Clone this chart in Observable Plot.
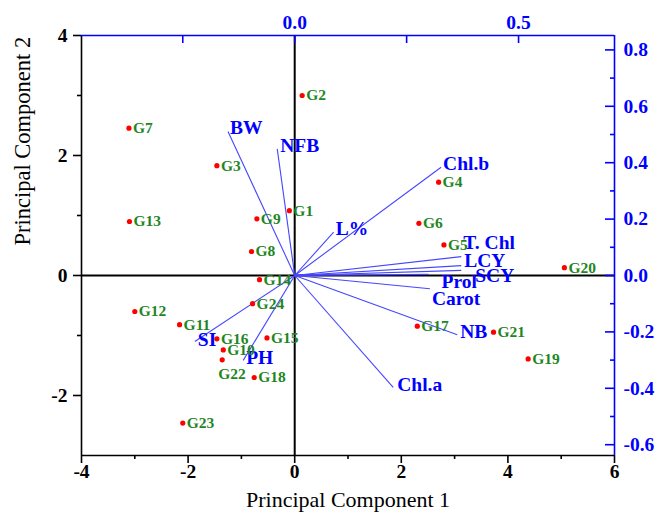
<!DOCTYPE html>
<html>
<head>
<meta charset="utf-8">
<script src="https://cdn.jsdelivr.net/npm/d3@7"></script>
<script src="https://cdn.jsdelivr.net/npm/@observablehq/plot@0.6"></script>
<style>
  html, body { margin: 0; padding: 0; background: #fff; }
  #chart svg { display: block; }
</style>
</head>
<body>
<div id="chart"></div>
<script>
// ---- Data ----
const genotypes = ["G1","G2","G3","G4","G5","G6","G7","G8","G9","G10","G11","G12",
                   "G13","G14","G15","G16","G17","G18","G19","G20","G21","G22","G23","G24"];
const pc1 = [-0.10, 0.14, -1.46, 2.70, 2.80, 2.33, -3.11, -0.81, -0.71, -1.34, -2.16, -3.00,
             -3.10, -0.66, -0.52, -1.46, 2.30, -0.76, 4.38, 5.06, 3.73, -1.36, -2.10, -0.79];
const pc2 = [1.08, 3.00, 1.83, 1.555, 0.51, 0.87, 2.455, 0.40, 0.945, -1.24, -0.82, -0.60,
             0.90, -0.07, -1.04, -1.055, -0.845, -1.70, -1.39, 0.13, -0.945, -1.405, -2.46, -0.47];

const variables = ["BW","NFB","Chl.b","L%","T. Chl","LCY","SCY","Prol","Carot","NB","Chl.a","SI","PH"];
const loading1 = [-0.149, -0.039, 0.327, 0.087, 0.372, 0.372, 0.372, 0.299, 0.302, 0.363, 0.220, -0.223, -0.115];
const loading2 = [0.511, 0.449, 0.384, 0.154, 0.067, 0.035, 0.018, 0.004, -0.047, -0.210, -0.397, -0.234, -0.301];

// label nudges (pixels) for variable names
const labelDx = [2, 3, 2, 2, 2, 3, 14, 13, 2, 3, 4, 3, 3];
const labelDy = [-4, -3, -3, -3, -14, -5, 5, 7, 10, -3, -3, -2, -3];

// axis ticks
const xTicks = [-4, -2, 0, 2, 4, 6];
const xMinor = [-3, -1, 1, 3, 5];
const yTicks = [-2, 0, 2, 4];
const yMinor = [-1, 1, 3];
const topTicks = [0.0, 0.5];
const topMinor = [-0.25, 0.25];
const rightTicks = [-0.6, -0.4, -0.2, 0.0, 0.2, 0.4, 0.6, 0.8];
const rightMinor = [-0.5, -0.3, -0.1, 0.1, 0.3, 0.5, 0.7];

// secondary (loading) axes -> primary (score) axes
const K1 = 8.4, K2 = 4.7;

// ---- Layout ----
const W = 656, H = 524;
const mL = 81, mR = 42, mT = 35, mB = 69;
const pw = W - mL - mR, ph = H - mT - mB;
const serif = "'Liberation Serif', 'Times New Roman', serif";
const BLUE = "#0000ff";
const GREEN = "#1f861f";
const idx = genotypes.map((_, i) => i);
const vidx = variables.map((_, i) => i);
const fmt1 = v => (Math.round(v * 10) / 10).toFixed(1);
const T = {fontFamily: serif};

const plot = Plot.plot({
  width: W, height: H,
  marginLeft: mL, marginRight: mR, marginTop: mT, marginBottom: mB,
  x: {domain: [-4, 6], axis: null},
  y: {domain: [-3, 4], axis: null},
  style: {fontFamily: serif, background: "#fff"},
  marks: [
    // origin cross
    Plot.ruleX([0], {stroke: "#000", strokeWidth: 2}),
    Plot.ruleY([0], {stroke: "#000", strokeWidth: 2}),
    // frame
    Plot.ruleX([-4], {stroke: "#000", strokeWidth: 1.6}),
    Plot.ruleY([-3], {stroke: "#000", strokeWidth: 1.6}),
    Plot.ruleY([4], {stroke: BLUE, strokeWidth: 1.6}),
    Plot.ruleX([6], {stroke: BLUE, strokeWidth: 1.6}),
    // bottom ticks (outward)
    Plot.ruleX(xTicks, {x: d => d, stroke: "#000", strokeWidth: 1.6, insetTop: ph, insetBottom: -8}),
    Plot.ruleX(xMinor, {x: d => d, stroke: "#000", strokeWidth: 1.6, insetTop: ph, insetBottom: -4}),
    // left ticks (outward)
    Plot.ruleY(yTicks, {y: d => d, stroke: "#000", strokeWidth: 1.6, insetLeft: -8, insetRight: pw}),
    Plot.ruleY(yMinor, {y: d => d, stroke: "#000", strokeWidth: 1.6, insetLeft: -4, insetRight: pw}),
    // top ticks (inward)
    Plot.ruleX(topTicks, {x: d => d * K1, stroke: BLUE, strokeWidth: 1.6, insetTop: 0, insetBottom: ph - 8}),
    Plot.ruleX(topMinor, {x: d => d * K1, stroke: BLUE, strokeWidth: 1.6, insetTop: 0, insetBottom: ph - 8}),
    // right ticks (inward)
    Plot.ruleY(rightTicks, {y: d => d * K2, stroke: BLUE, strokeWidth: 1.6, insetLeft: pw - 9, insetRight: 0}),
    Plot.ruleY(rightMinor, {y: d => d * K2, stroke: BLUE, strokeWidth: 1.6, insetLeft: pw - 4, insetRight: 0}),
    // tick labels
    Plot.text(xTicks, {...T, x: d => d, frameAnchor: "bottom", dy: 22, text: d => String(d),
      fontSize: 19.5, fontWeight: "bold", fill: "#000"}),
    Plot.text(yTicks, {...T, y: d => d, frameAnchor: "left", dx: -14, textAnchor: "end", text: d => String(d),
      fontSize: 19.5, fontWeight: "bold", fill: "#000"}),
    Plot.text(topTicks, {...T, x: d => d * K1, frameAnchor: "top", dy: -20, text: d => fmt1(d),
      fontSize: 19.5, fontWeight: "bold", fill: BLUE}),
    Plot.text(rightTicks, {...T, y: d => d * K2, frameAnchor: "right", dx: 9, textAnchor: "start", text: d => fmt1(d),
      fontSize: 19.5, fontWeight: "bold", fill: BLUE}),
    // axis titles
    Plot.text(["Principal Component 1"], {...T, frameAnchor: "bottom", dy: 51, fontSize: 22, fill: "#000"}),
    Plot.text(["Principal Component 2"], {...T, frameAnchor: "left", dx: -59, rotate: -90, fontSize: 22.5, fill: "#000"}),
    // loading vectors
    Plot.link(vidx, {x1: 0, y1: 0, x2: i => loading1[i] * K1, y2: i => loading2[i] * K2,
      stroke: "#4646ff", strokeWidth: 1.1}),
    ...vidx.map(i => Plot.text([i], {...T, x: i => loading1[i] * K1, y: i => loading2[i] * K2,
      text: i => variables[i], textAnchor: "start", dx: labelDx[i], dy: labelDy[i],
      fontSize: 19.5, fontWeight: "bold", fill: BLUE})),
    // scores
    Plot.dot(idx, {x: i => pc1[i], y: i => pc2[i], r: 2.6, fill: "#ff0000", stroke: "none"}),
    Plot.text(idx.filter(i => genotypes[i] !== "G22"), {...T, x: i => pc1[i], y: i => pc2[i], text: i => genotypes[i],
      textAnchor: "start", dx: 4, fontSize: 15.5, fontWeight: "bold", fill: GREEN}),
    Plot.text(idx.filter(i => genotypes[i] === "G22"), {...T, x: i => pc1[i], y: i => pc2[i], text: i => genotypes[i],
      textAnchor: "start", dx: -4, dy: 14, fontSize: 15.5, fontWeight: "bold", fill: GREEN})
  ]
});
document.getElementById("chart").appendChild(plot);
</script>
</body>
</html>
